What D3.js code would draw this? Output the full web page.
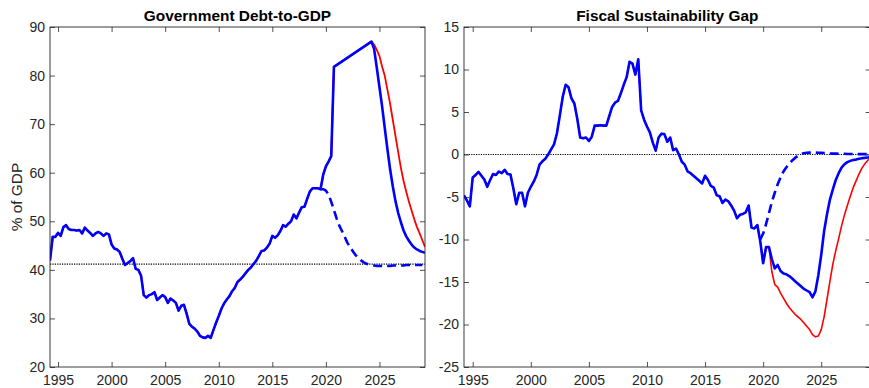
<!DOCTYPE html>
<html>
<head>
<meta charset="utf-8">
<script src="https://cdn.jsdelivr.net/npm/d3@7"></script>
<style>
  html, body { margin: 0; padding: 0; background: #fff; }
  svg { display: block; font-family: "Liberation Sans", Arial, Helvetica, sans-serif; }
</style>
</head>
<body>
<svg id="chart" width="869" height="388"></svg>
<script>
// ---------- Data (quarterly, time in fractional years) ----------

// Government debt-to-GDP, history 1994Q2 .. 2020Q4
const debtHistStart = 1994.25;
const debtHist = [
  41.9, 46.8, 46.8, 47.6, 47.0, 48.8, 49.2, 48.4, 48.2, 48.2, 48.1, 48.2,
  47.5, 48.7, 48.1, 47.6, 47.0, 47.5, 47.8, 47.5, 47.0, 47.5, 47.3, 45.2,
  44.4, 44.2, 43.7, 42.3, 41.0, 41.4, 41.8, 42.4, 40.2, 40.0, 38.8, 34.8,
  34.3, 34.8, 35.0, 35.4, 33.8, 34.3, 34.8, 34.4, 33.2, 34.1, 33.7, 33.2,
  31.6, 32.6, 32.8, 31.0, 28.9, 28.3, 27.9, 27.3, 26.4, 26.1, 26.0, 26.4,
  26.0, 27.6, 29.1, 30.5, 32.0, 33.1, 33.9, 34.6, 35.6, 36.3, 37.5, 38.0,
  38.6, 39.3, 40.0, 40.5, 41.2, 41.9, 42.9, 43.9, 44.0, 44.6, 45.4, 47.0,
  46.6, 47.1, 48.0, 49.2, 48.9, 49.5, 50.0, 51.4, 50.6, 51.8, 52.9, 53.0,
  54.6, 56.1, 56.8, 56.8, 56.8, 56.6, 59.6, 61.3, 62.3, 63.4, 81.8
];
// Projections from the 2024Q2 peak
const debtProjStart = 2024.25;
const debtProjBlue = [
  87.0, 85.5, 81.6, 77.6, 73.6, 69.1, 64.7, 60.6, 57.1, 54.1, 51.7, 49.8,
  48.1, 46.9, 46.0, 45.2, 44.6, 44.2, 43.9, 43.7, 43.5
];
const debtProjRed = [
  87.0, 86.4, 85.3, 84.0, 81.8, 79.9, 77.0, 74.1, 70.8, 67.5, 64.2, 61.0,
  58.3, 56.1, 54.0, 52.2, 50.4, 48.8, 47.5, 46.1, 44.7
];
// Alternative (dashed) path from 2019Q3
const debtAltStart = 2019.5;
const debtAlt = [
  56.6, 56.6, 56.3, 55.5, 54.0, 52.3, 50.6, 49.1, 48.0, 46.8, 45.6, 44.7,
  43.9, 43.1, 42.5, 42.0, 41.6, 41.3, 41.1, 41.0, 40.9, 40.8, 40.8, 40.8,
  40.8, 40.8, 40.8, 40.9, 40.9, 40.9, 40.9, 40.9, 41.0, 41.0, 41.0, 41.0,
  41.0, 41.0, 41.0
];
const debtRef = 41.2;

// Fiscal sustainability gap, history 1994Q2 .. 2020Q3
const gapHistStart = 1994.25;
const gapHist = [
  -4.8, -5.4, -6.1, -2.7, -2.4, -2.05, -2.5, -2.95, -3.8, -3.0, -2.3, -2.4,
  -2.0, -2.2, -1.8, -2.3, -2.35, -4.0, -5.85, -4.5, -4.5, -6.1, -4.5, -3.8,
  -3.2, -2.4, -1.2, -0.8, -0.5, 0.0, 0.6, 1.2, 2.5, 4.6, 6.8, 8.2,
  7.9, 6.6, 6.0, 4.2, 2.0, 1.9, 2.0, 1.6, 2.1, 3.4, 3.4, 3.45,
  3.4, 3.4, 4.5, 5.6, 6.1, 6.3, 7.2, 8.2, 9.1, 10.9, 10.7, 9.4,
  11.2, 5.2, 4.1, 3.3, 2.6, 1.4, 0.45, 2.0, 2.45, 2.4, 1.5, 2.0,
  0.5, 0.7, 0.0, -0.85, -1.2, -2.0, -2.2, -2.5, -2.8, -3.1, -3.4, -2.5,
  -3.0, -3.7, -3.9, -4.8, -4.9, -5.7, -5.3, -5.5, -6.0, -6.6, -7.5, -7.1,
  -7.0, -6.8, -6.0, -8.6, -8.7, -8.3, -10.2, -12.8, -10.9, -10.9
];
const gapProjStart = 2020.75;
const gapProjBlue = [
  -12.3, -13.4, -13.0, -13.7, -14.0, -14.1, -14.3, -14.6, -14.9, -15.2, -15.5, -15.8,
  -16.0, -16.2, -16.8, -16.1, -14.2, -11.8, -9.0, -7.0, -5.3, -4.1, -3.0, -2.2,
  -1.55, -1.15, -0.9, -0.75, -0.65, -0.6, -0.5, -0.45, -0.4, -0.35, -0.3
];
const gapProjRed = [
  -13.8, -15.3, -15.6, -16.3, -16.9, -17.5, -18.0, -18.4, -18.8, -19.1, -19.4, -19.8,
  -20.2, -20.6, -21.2, -21.45, -21.35, -20.6, -19.1, -17.0, -14.9, -12.9, -11.3, -9.9,
  -8.4, -7.1, -6.0, -4.9, -3.9, -3.1, -2.3, -1.6, -1.1, -0.7, -0.4
];
const gapAltStart = 2019.75;
const gapAlt = [
  -10.0, -9.3, -8.2, -6.9, -5.6, -4.5, -3.5, -2.7, -2.0, -1.5, -1.1, -0.7,
  -0.4, -0.15, 0.05, 0.15, 0.2, 0.22, 0.22, 0.22, 0.2, 0.2, 0.18, 0.15,
  0.12, 0.1, 0.1, 0.08, 0.08, 0.08, 0.06, 0.06, 0.06, 0.05, 0.05, 0.05,
  0.05, 0.05, 0.05
];
const gapRef = 0;

// Axis ticks
const yearTicks = [1995, 2000, 2005, 2010, 2015, 2020, 2025];
const debtTicks = [20, 30, 40, 50, 60, 70, 80, 90];
const gapTicks = [-25, -20, -15, -10, -5, 0, 5, 10, 15];

// ---------- Helpers ----------
const toPoints = (start, vals) => vals.map((v, i) => ({ t: start + 0.25 * i, v }));

const svg = d3.select("#chart");
const INK = "#262626";
const BLUE = "#0000ff";
const RED = "#ff0000";

function panel(opts) {
  const { left, right, top, bottom, yDomain, yTicks, title, yLabel, series, ref } = opts;
  const x = d3.scaleLinear().domain([1994.25, 2029.25]).range([left, right]);
  const y = d3.scaleLinear().domain(yDomain).range([bottom, top]);
  const g = svg.append("g");

  const clipId = "clip-" + Math.round(left);
  svg.append("clipPath").attr("id", clipId)
    .append("rect").attr("x", left).attr("y", top)
    .attr("width", right - left).attr("height", bottom - top);

  const fmt = d => String(d);
  const axStyle = sel => {
    sel.selectAll("path.domain").remove();
    sel.selectAll("line").attr("stroke", INK).attr("stroke-width", 0.8);
    sel.selectAll("text").attr("fill", INK).attr("font-size", 14)
      .attr("font-family", '"Liberation Sans", Arial, sans-serif');
  };

  g.append("g").attr("transform", `translate(0,${bottom})`)
    .call(d3.axisBottom(x).tickValues(yearTicks).tickFormat(fmt).tickSizeInner(-5).tickSizeOuter(0).tickPadding(8))
    .call(axStyle);
  g.append("g").attr("transform", `translate(0,${top})`)
    .call(d3.axisTop(x).tickValues(yearTicks).tickFormat("").tickSizeInner(-5).tickSizeOuter(0))
    .call(axStyle);
  g.append("g").attr("transform", `translate(${left},0)`)
    .call(d3.axisLeft(y).tickValues(yTicks).tickFormat(fmt).tickSizeInner(-5).tickSizeOuter(0).tickPadding(5))
    .call(axStyle);
  g.append("g").attr("transform", `translate(${right},0)`)
    .call(d3.axisRight(y).tickValues(yTicks).tickFormat("").tickSizeInner(-5).tickSizeOuter(0))
    .call(axStyle);

  // Reference level (dotted)
  g.append("line")
    .attr("x1", left).attr("x2", right)
    .attr("y1", y(ref)).attr("y2", y(ref))
    .attr("stroke", "#000").attr("stroke-width", 1.2)
    .attr("stroke-dasharray", "1.2,1.2");

  const line = d3.line().x(d => x(d.t)).y(d => y(d.v));
  const lines = g.append("g").attr("clip-path", `url(#${clipId})`);
  series.forEach(s => {
    lines.append("path")
      .attr("d", line(s.points))
      .attr("fill", "none")
      .attr("stroke", s.color)
      .attr("stroke-width", s.width)
      .attr("stroke-linejoin", "round")
      .attr("stroke-dasharray", s.dash || null);
  });

  // Box
  g.append("rect")
    .attr("x", left).attr("y", top)
    .attr("width", right - left).attr("height", bottom - top)
    .attr("fill", "none").attr("stroke", INK).attr("stroke-width", 0.9);

  g.append("text")
    .attr("x", (left + right) / 2).attr("y", top - 6)
    .attr("text-anchor", "middle")
    .attr("font-size", 15.4).attr("font-weight", "bold").attr("fill", "#000")
    .text(title);

  if (yLabel) {
    g.append("text")
      .attr("transform", `translate(${left - 28},${(top + bottom) / 2}) rotate(-90)`)
      .attr("text-anchor", "middle")
      .attr("font-size", 15.4).attr("fill", INK)
      .text(yLabel);
  }
}

// Left panel: debt-to-GDP
const debtHistPts = toPoints(debtHistStart, debtHist);
panel({
  left: 50, right: 425, top: 27, bottom: 367,
  yDomain: [20, 90], yTicks: debtTicks,
  title: "Government Debt-to-GDP", yLabel: "% of GDP", ref: debtRef,
  series: [
    { points: debtHistPts.concat(toPoints(debtProjStart, debtProjRed)), color: RED, width: 1.8 },
    { points: debtHistPts.concat(toPoints(debtProjStart, debtProjBlue)), color: BLUE, width: 2.6 },
    { points: toPoints(debtAltStart, debtAlt), color: BLUE, width: 2.6, dash: "9,5" }
  ]
});

// Right panel: sustainability gap
const gapHistPts = toPoints(gapHistStart, gapHist);
panel({
  left: 464, right: 870.6, top: 27, bottom: 367,
  yDomain: [-25, 15], yTicks: gapTicks,
  title: "Fiscal Sustainability Gap", yLabel: null, ref: gapRef,
  series: [
    { points: gapHistPts.concat(toPoints(gapProjStart, gapProjRed)), color: RED, width: 1.6 },
    { points: gapHistPts.concat(toPoints(gapProjStart, gapProjBlue)), color: BLUE, width: 2.6 },
    { points: toPoints(gapAltStart, gapAlt), color: BLUE, width: 2.6, dash: "9,5" }
  ]
});
</script>
</body>
</html>
